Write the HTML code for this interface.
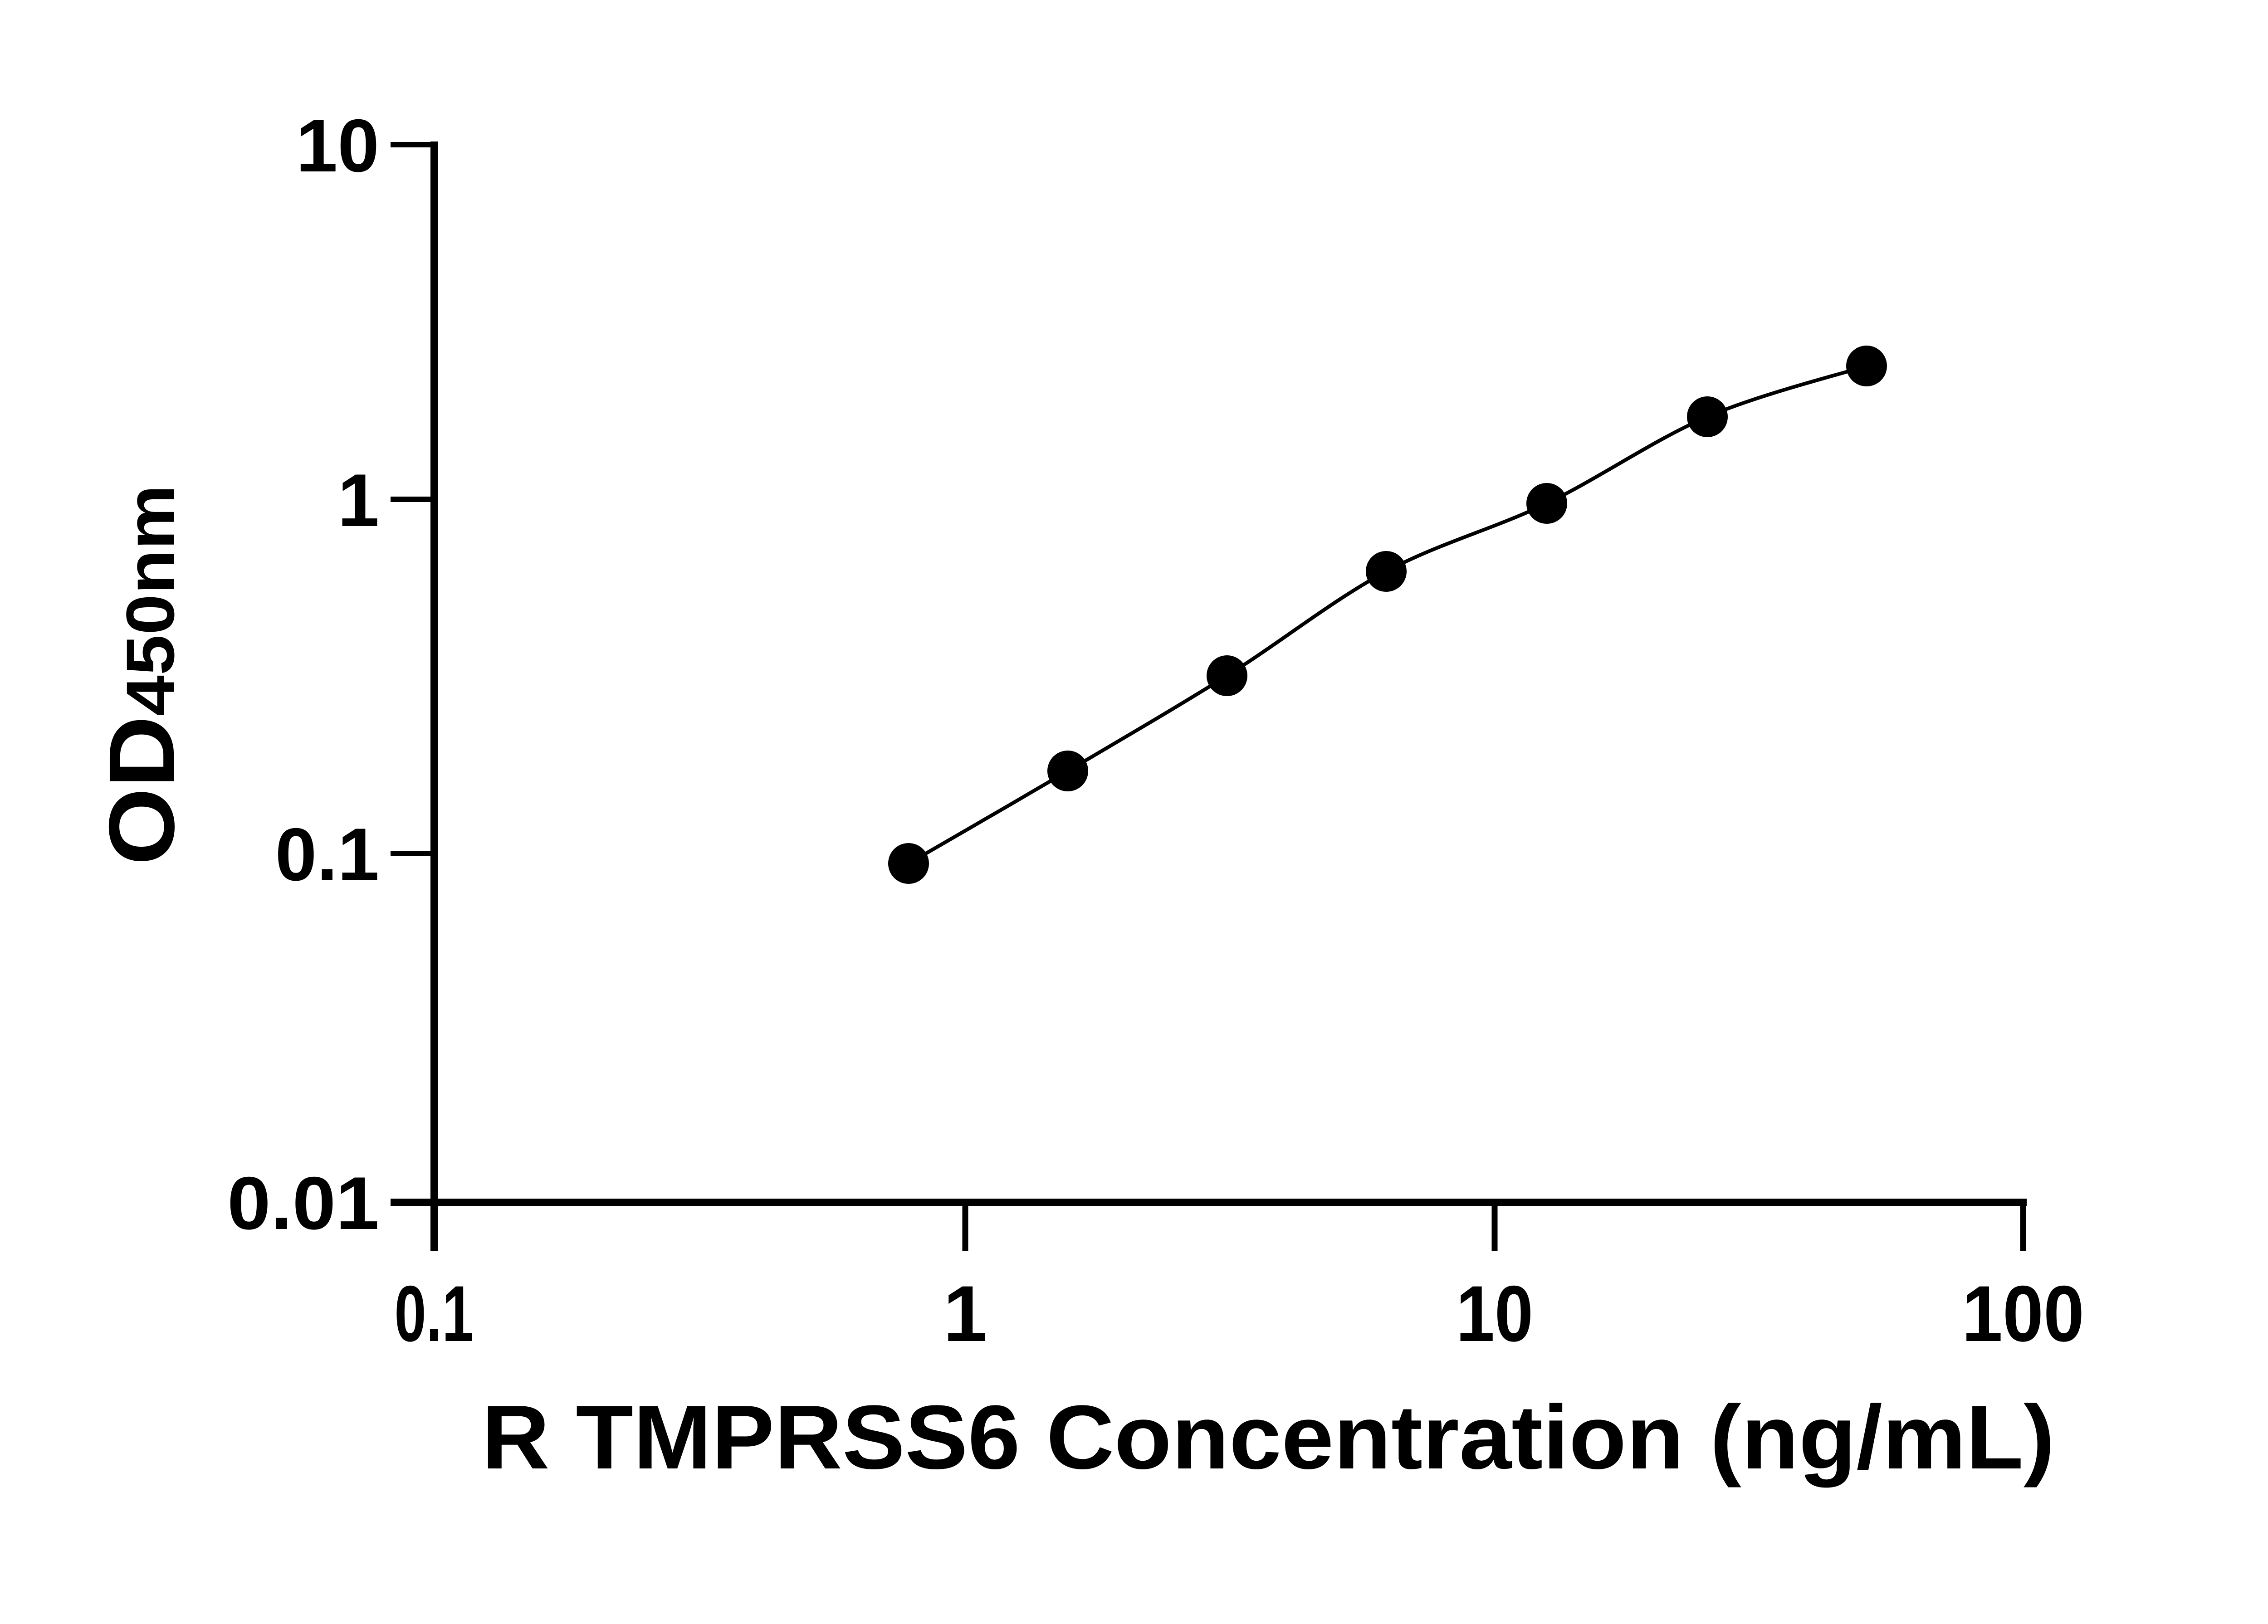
<!DOCTYPE html>
<html><head><style>html,body{margin:0;padding:0;background:#fff}</style></head>
<body>
<svg width="5142" height="3576" viewBox="0 0 5142 3576" xmlns="http://www.w3.org/2000/svg">
<rect width="5142" height="3576" fill="#fff"/>
<g stroke="#000" fill="none">
<line x1="957" y1="312" x2="957" y2="2759" stroke-width="16"/>
<line x1="861" y1="2651" x2="4468" y2="2651" stroke-width="16"/>
<line x1="861" y1="319" x2="957" y2="319" stroke-width="12"/>
<line x1="861" y1="1101" x2="957" y2="1101" stroke-width="12"/>
<line x1="861" y1="1882" x2="957" y2="1882" stroke-width="12"/>
<line x1="2128" y1="2651" x2="2128" y2="2759" stroke-width="13"/>
<line x1="3295" y1="2651" x2="3295" y2="2759" stroke-width="13"/>
<line x1="4460" y1="2651" x2="4460" y2="2759" stroke-width="13"/>
<path stroke-width="8" d="M2003,1904 C2061.5,1870 2237,1769 2354,1700 C2471,1631 2588,1563 2705,1490 C2822,1417 2938.5,1323 3056,1260 C3173.5,1197 3292,1167 3410,1110 C3528,1053 3646.5,969.5 3764,919 C3881.5,868.5 4056.5,825.7 4115,807"/>
</g>
<g fill="#000">
<circle cx="2003" cy="1904" r="45"/><circle cx="2354" cy="1700" r="45"/><circle cx="2705" cy="1490" r="45"/>
<circle cx="3056" cy="1260" r="45"/><circle cx="3410" cy="1110" r="45"/><circle cx="3764" cy="919" r="45"/><circle cx="4115" cy="807" r="45"/>
</g>
<g font-family="Liberation Sans, sans-serif" font-weight="bold" font-size="165" fill="#000">
<text x="836" y="378" text-anchor="end">10</text>
<text x="836" y="1160" text-anchor="end">1</text>
<text x="836" y="1941" text-anchor="end">0.1</text>
<text x="836" y="2710" text-anchor="end" textLength="335" lengthAdjust="spacingAndGlyphs">0.01</text>
<text x="957" y="2957" text-anchor="middle" font-size="175" textLength="175" lengthAdjust="spacingAndGlyphs">0.1</text>
<text x="2128" y="2957" text-anchor="middle" font-size="175">1</text>
<text x="3295" y="2957" text-anchor="middle" font-size="175" textLength="170" lengthAdjust="spacingAndGlyphs">10</text>
<text x="4460" y="2957" text-anchor="middle" font-size="175" textLength="270" lengthAdjust="spacingAndGlyphs">100</text>
<text x="1062" y="3238" font-size="200" textLength="3468" lengthAdjust="spacingAndGlyphs">R TMPRSS6 Concentration (ng/mL)</text>
<text transform="translate(383,1908) rotate(-90)" textLength="839" lengthAdjust="spacingAndGlyphs"><tspan font-size="205">OD</tspan><tspan font-size="150">450nm</tspan></text>
</g>
</svg>
</body></html>
